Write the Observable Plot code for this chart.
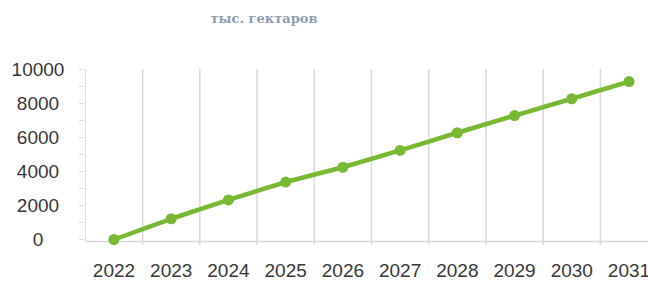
<!DOCTYPE html>
<html>
<head>
<meta charset="utf-8">
<script src="https://cdn.jsdelivr.net/npm/d3@7"></script>
<script src="https://cdn.jsdelivr.net/npm/@observablehq/plot@0.6"></script>
<style>
  html, body { margin: 0; padding: 0; background: #fff; overflow: hidden; }
  #wrap { position: relative; width: 648px; height: 284px; }
  #title { position: absolute; left: 0; width: 528px; top: 11px; text-align: center;
           font-family: "DejaVu Serif", serif; font-weight: bold; font-size: 13px;
           color: #8e9dab; }
  #chart { position: absolute; left: 0; top: 0; }
</style>
</head>
<body>
<div id="wrap">
  <div id="title"></div>
  <div id="chart"></div>
</div>
<script>
const title = "тыс. гектаров";
const years = [2022, 2023, 2024, 2025, 2026, 2027, 2028, 2029, 2030, 2031];
const values = [0, 1220, 2330, 3380, 4250, 5240, 6280, 7290, 8280, 9290];
const yTickLabels = [0, 2000, 4000, 6000, 8000, 10000];
const yMinorTicks = d3.range(0, 10001, 1000);

document.getElementById("title").textContent = title;

const data = years.map((year, i) => ({year, value: values[i]}));
const bounds = years.slice(0, -1).map(y => y + 0.5);

const green = "#78b832";
const grid = "#d9d9d9";

const chart = Plot.plot({
  width: 648,
  height: 284,
  marginLeft: 83,
  marginRight: 0,
  marginTop: 69,
  marginBottom: 43,
  style: {fontFamily: "'Liberation Sans', Arial, sans-serif", background: "transparent"},
  x: {domain: [2022, 2031], range: [113.5, 628.5]},
  y: {domain: [0, 10000], range: [239, 69]},
  marks: [
    Plot.ruleX(bounds, {x: d => d, y1: 10000, y2: -350, stroke: grid, strokeWidth: 1.5}),
    Plot.ruleX([2021.5], {y1: -120, y2: 10000, stroke: grid, strokeWidth: 1}),
    Plot.ruleY([-120], {x1: 2021.5, x2: 2031.5, stroke: grid, strokeWidth: 1.5}),
    Plot.axisY({ticks: yMinorTicks, tickSize: 4, text: null, stroke: grid, anchor: "left", label: null}),
    Plot.axisY({ticks: yTickLabels, tickSize: 0, tickPadding: 45.5, textAnchor: "middle",
                fontSize: 19, fill: "#383838", anchor: "left", label: null,
                tickFormat: d => String(d)}),
    Plot.axisX({ticks: years, tickSize: 0, tickPadding: 22, fontSize: 19, fill: "#383838",
                label: null, tickFormat: d => String(d)}),
    Plot.line(data, {x: "year", y: "value", stroke: green, strokeWidth: 4.5}),
    Plot.dot(data, {x: "year", y: "value", r: 5.5, fill: green, stroke: "none"})
  ]
});
document.getElementById("chart").appendChild(chart);
</script>
</body>
</html>
